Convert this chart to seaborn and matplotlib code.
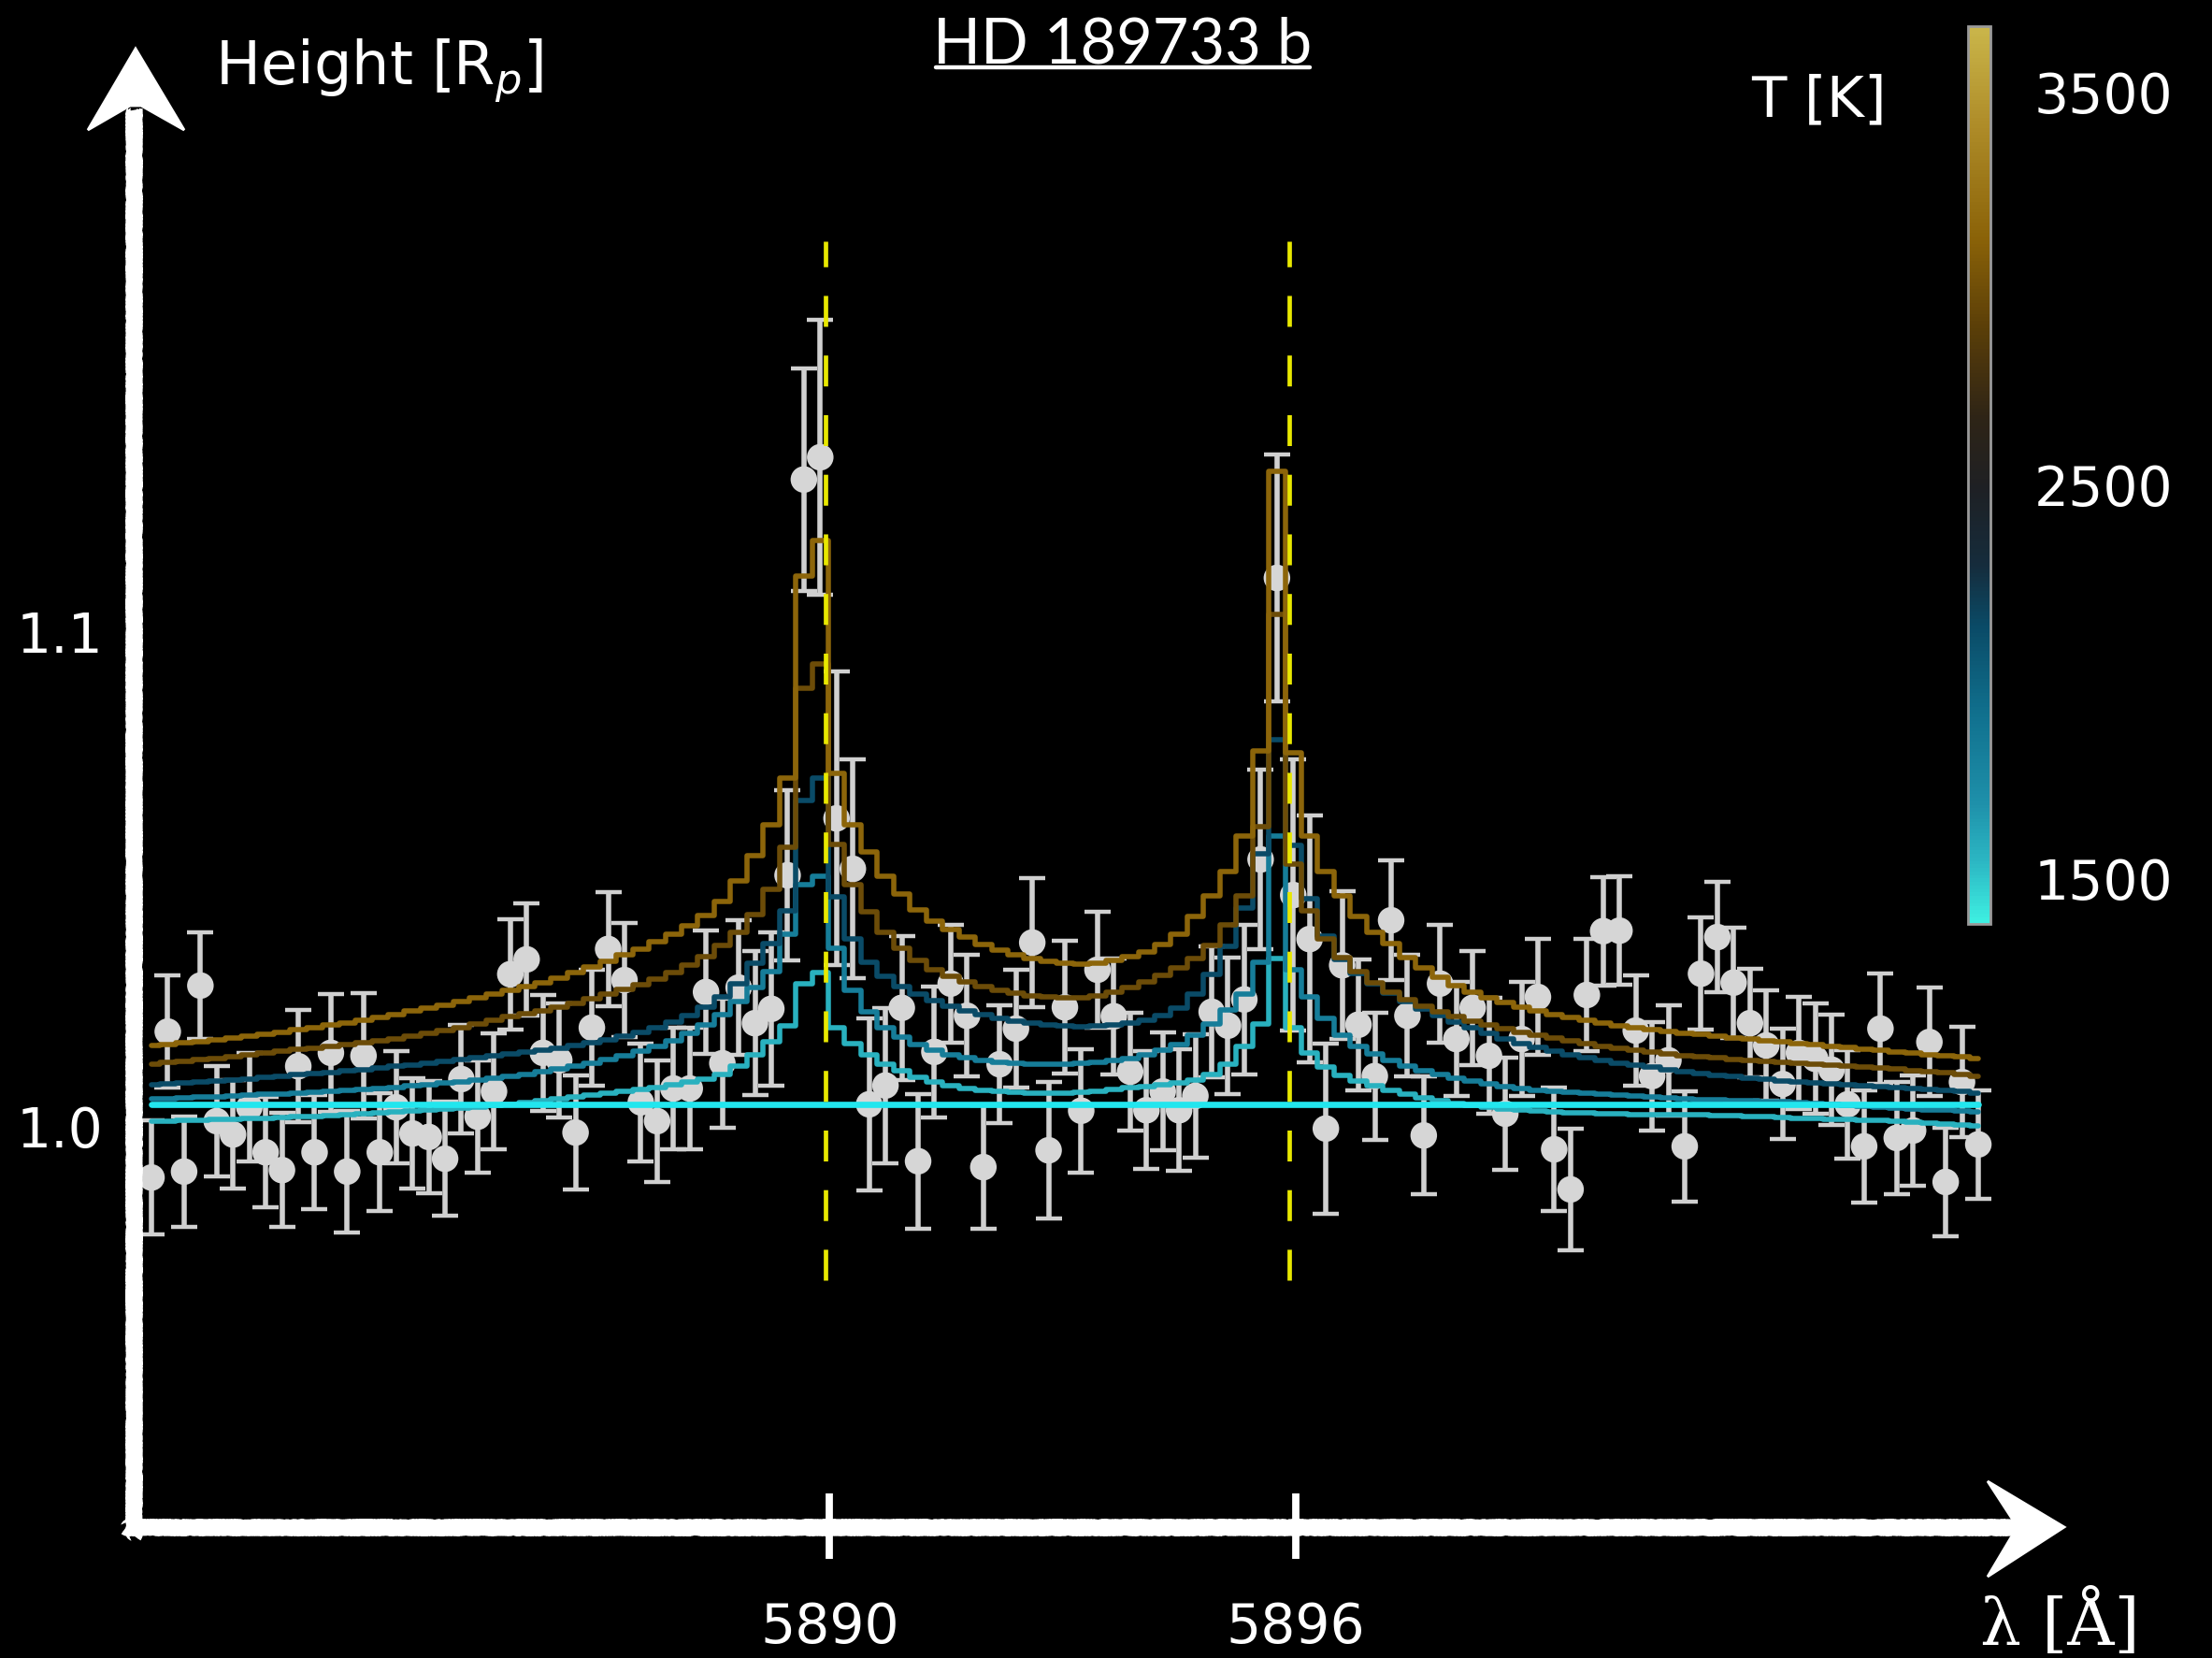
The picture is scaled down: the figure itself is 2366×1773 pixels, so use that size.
import numpy as np
import pandas as pd
import matplotlib
matplotlib.use('Agg')
import matplotlib.pyplot as plt
from matplotlib.colors import LinearSegmentedColormap, Normalize
from matplotlib.patches import Polygon
import seaborn as sns

# wavelength bins [A]
wavelength = [
    5881.27, 5881.48, 5881.69, 5881.90, 5882.11, 5882.32, 5882.53, 5882.74, 5882.95, 5883.16,
    5883.37, 5883.58, 5883.79, 5884.00, 5884.21, 5884.42, 5884.63, 5884.84, 5885.05, 5885.26,
    5885.47, 5885.68, 5885.89, 5886.10, 5886.31, 5886.52, 5886.73, 5886.94, 5887.15, 5887.36,
    5887.57, 5887.78, 5887.99, 5888.20, 5888.41, 5888.62, 5888.83, 5889.04, 5889.25, 5889.46,
    5889.67, 5889.88, 5890.09, 5890.30, 5890.51, 5890.72, 5890.93, 5891.14, 5891.35, 5891.56,
    5891.77, 5891.98, 5892.19, 5892.40, 5892.61, 5892.82, 5893.03, 5893.24, 5893.45, 5893.66,
    5893.87, 5894.08, 5894.29, 5894.50, 5894.71, 5894.92, 5895.13, 5895.34, 5895.55, 5895.76,
    5895.97, 5896.18, 5896.39, 5896.60, 5896.81, 5897.02, 5897.23, 5897.44, 5897.65, 5897.86,
    5898.07, 5898.28, 5898.49, 5898.70, 5898.91, 5899.12, 5899.33, 5899.54, 5899.75, 5899.96,
    5900.17, 5900.38, 5900.59, 5900.80, 5901.01, 5901.22, 5901.43, 5901.64, 5901.85, 5902.06,
    5902.27, 5902.48, 5902.69, 5902.90, 5903.11, 5903.32, 5903.53, 5903.74, 5903.95, 5904.16,
    5904.37, 5904.58, 5904.79]

# measured height [Rp] and 1-sigma errors
height = [
    0.9907, 1.0202, 0.9919, 1.0295, 1.0021, 0.9994, 1.0049, 0.9958, 0.9922, 1.0132,
    0.9958, 1.0159, 0.9919, 1.0153, 0.9958, 1.0049, 0.9996, 0.9989, 0.9945, 1.0106,
    1.0030, 1.0081, 1.0318, 1.0348, 1.0159, 1.0144, 0.9998, 1.0210, 1.0369, 1.0306,
    1.0059, 1.0021, 1.0087, 1.0087, 1.0282, 1.0138, 1.0291, 1.0219, 1.0248, 1.0518,
    1.1318, 1.1363, 1.0633, 1.0531, 1.0055, 1.0093, 1.0250, 0.9940, 1.0161, 1.0299,
    1.0234, 0.9928, 1.0136, 1.0208, 1.0382, 0.9962, 1.0251, 1.0042, 1.0327, 1.0233,
    1.0121, 1.0043, 1.0081, 1.0043, 1.0072, 1.0242, 1.0214, 1.0267, 1.0550, 1.1119,
    1.0478, 1.0389, 1.0006, 1.0336, 1.0216, 1.0112, 1.0427, 1.0234, 0.9992, 1.0299,
    1.0187, 1.0250, 1.0153, 1.0036, 1.0187, 1.0272, 0.9964, 0.9883, 1.0276, 1.0405,
    1.0406, 1.0204, 1.0112, 1.0144, 0.9970, 1.0319, 1.0393, 1.0301, 1.0219, 1.0174,
    1.0096, 1.0159, 1.0147, 1.0125, 1.0055, 0.9970, 1.0208, 0.9987, 1.0002, 1.0181,
    0.9898, 1.0100, 0.9974]

height_err = [
    0.0115, 0.0113, 0.0112, 0.0108, 0.0112, 0.0110, 0.0110, 0.0112, 0.0115, 0.0113,
    0.0115, 0.0119, 0.0123, 0.0127, 0.0119, 0.0113, 0.0112, 0.0113, 0.0115, 0.0110,
    0.0113, 0.0117, 0.0112, 0.0113, 0.0117, 0.0115, 0.0115, 0.0117, 0.0115, 0.0115,
    0.0119, 0.0123, 0.0123, 0.0123, 0.0125, 0.0130, 0.0136, 0.0146, 0.0155, 0.0172,
    0.0225, 0.0278, 0.0297, 0.0221, 0.0174, 0.0157, 0.0146, 0.0136, 0.0132, 0.0119,
    0.0123, 0.0125, 0.0119, 0.0119, 0.0130, 0.0138, 0.0134, 0.0125, 0.0117, 0.0117,
    0.0119, 0.0119, 0.0119, 0.0123, 0.0125, 0.0132, 0.0138, 0.0151, 0.0181, 0.0250,
    0.0274, 0.0250, 0.0172, 0.0149, 0.0132, 0.0129, 0.0121, 0.0123, 0.0119, 0.0119,
    0.0115, 0.0115, 0.0117, 0.0113, 0.0115, 0.0117, 0.0125, 0.0123, 0.0113, 0.0110,
    0.0110, 0.0112, 0.0110, 0.0112, 0.0112, 0.0113, 0.0112, 0.0112, 0.0110, 0.0112,
    0.0112, 0.0113, 0.0112, 0.0112, 0.0110, 0.0113, 0.0112, 0.0113, 0.0112, 0.0110,
    0.0110, 0.0112, 0.0110]

# model spectra, one per temperature [K]
model_temps = [1500, 1750, 2050, 2850, 3000]

model_1500 = [
    1.0021, 1.0021, 1.0023, 1.0023, 1.0025, 1.0025, 1.0026, 1.0026, 1.0028, 1.0030,
    1.0030, 1.0032, 1.0034, 1.0036, 1.0038, 1.0040, 1.0042, 1.0043, 1.0045, 1.0047,
    1.0049, 1.0053, 1.0055, 1.0059, 1.0062, 1.0066, 1.0070, 1.0074, 1.0078, 1.0081,
    1.0085, 1.0089, 1.0095, 1.0100, 1.0106, 1.0115, 1.0132, 1.0155, 1.0181, 1.0214,
    1.0299, 1.0321, 1.0210, 1.0178, 1.0155, 1.0136, 1.0123, 1.0110, 1.0100, 1.0093,
    1.0087, 1.0083, 1.0081, 1.0079, 1.0078, 1.0078, 1.0078, 1.0079, 1.0081, 1.0085,
    1.0089, 1.0091, 1.0095, 1.0098, 1.0104, 1.0115, 1.0136, 1.0172, 1.0217, 1.0350,
    1.0210, 1.0159, 1.0130, 1.0113, 1.0102, 1.0093, 1.0083, 1.0076, 1.0068, 1.0062,
    1.0057, 1.0053, 1.0049, 1.0045, 1.0043, 1.0042, 1.0040, 1.0038, 1.0038, 1.0036,
    1.0036, 1.0034, 1.0034, 1.0034, 1.0034, 1.0034, 1.0032, 1.0032, 1.0030, 1.0030,
    1.0028, 1.0026, 1.0026, 1.0025, 1.0025, 1.0023, 1.0023, 1.0021, 1.0019, 1.0017,
    1.0015, 1.0013, 1.0011]

model_1750 = [
    1.0066, 1.0066, 1.0068, 1.0070, 1.0070, 1.0072, 1.0074, 1.0076, 1.0076, 1.0078,
    1.0079, 1.0081, 1.0083, 1.0085, 1.0087, 1.0089, 1.0093, 1.0095, 1.0098, 1.0100,
    1.0104, 1.0108, 1.0112, 1.0115, 1.0121, 1.0127, 1.0132, 1.0138, 1.0146, 1.0153,
    1.0163, 1.0172, 1.0183, 1.0198, 1.0216, 1.0236, 1.0263, 1.0291, 1.0323, 1.0399,
    1.0499, 1.0516, 1.0371, 1.0285, 1.0242, 1.0210, 1.0191, 1.0176, 1.0164, 1.0155,
    1.0149, 1.0144, 1.0140, 1.0138, 1.0136, 1.0136, 1.0136, 1.0138, 1.0140, 1.0144,
    1.0147, 1.0155, 1.0164, 1.0176, 1.0195, 1.0217, 1.0246, 1.0278, 1.0342, 1.0597,
    1.0327, 1.0272, 1.0229, 1.0195, 1.0172, 1.0157, 1.0144, 1.0132, 1.0123, 1.0115,
    1.0108, 1.0102, 1.0096, 1.0091, 1.0087, 1.0083, 1.0081, 1.0079, 1.0078, 1.0076,
    1.0074, 1.0072, 1.0070, 1.0068, 1.0066, 1.0064, 1.0064, 1.0062, 1.0062, 1.0060,
    1.0060, 1.0059, 1.0057, 1.0055, 1.0053, 1.0051, 1.0049, 1.0047, 1.0045, 1.0043,
    1.0043, 1.0042, 1.0040]

model_2050 = [
    1.0095, 1.0096, 1.0098, 1.0100, 1.0102, 1.0104, 1.0106, 1.0110, 1.0112, 1.0115,
    1.0117, 1.0119, 1.0123, 1.0125, 1.0129, 1.0132, 1.0134, 1.0138, 1.0142, 1.0146,
    1.0149, 1.0153, 1.0157, 1.0161, 1.0164, 1.0168, 1.0174, 1.0180, 1.0185, 1.0193,
    1.0200, 1.0210, 1.0221, 1.0234, 1.0251, 1.0272, 1.0299, 1.0340, 1.0380, 1.0446,
    1.0669, 1.0715, 1.0474, 1.0389, 1.0342, 1.0314, 1.0293, 1.0278, 1.0265, 1.0253,
    1.0244, 1.0236, 1.0229, 1.0223, 1.0219, 1.0216, 1.0214, 1.0212, 1.0214, 1.0216,
    1.0219, 1.0225, 1.0234, 1.0250, 1.0278, 1.0318, 1.0374, 1.0452, 1.0561, 1.0792,
    1.0578, 1.0471, 1.0395, 1.0348, 1.0319, 1.0299, 1.0280, 1.0263, 1.0248, 1.0234,
    1.0221, 1.0210, 1.0198, 1.0187, 1.0178, 1.0170, 1.0163, 1.0155, 1.0149, 1.0144,
    1.0138, 1.0134, 1.0130, 1.0125, 1.0121, 1.0117, 1.0113, 1.0112, 1.0108, 1.0106,
    1.0102, 1.0100, 1.0098, 1.0096, 1.0095, 1.0093, 1.0091, 1.0089, 1.0087, 1.0085,
    1.0083, 1.0081, 1.0078]

model_2850 = [
    1.0136, 1.0140, 1.0142, 1.0146, 1.0147, 1.0151, 1.0155, 1.0159, 1.0163, 1.0166,
    1.0168, 1.0172, 1.0176, 1.0180, 1.0183, 1.0187, 1.0193, 1.0198, 1.0204, 1.0210,
    1.0217, 1.0225, 1.0233, 1.0238, 1.0244, 1.0251, 1.0259, 1.0268, 1.0278, 1.0287,
    1.0297, 1.0308, 1.0321, 1.0336, 1.0354, 1.0376, 1.0403, 1.0439, 1.0490, 1.0575,
    1.0896, 1.0945, 1.0580, 1.0499, 1.0444, 1.0403, 1.0371, 1.0346, 1.0327, 1.0314,
    1.0302, 1.0293, 1.0285, 1.0280, 1.0274, 1.0272, 1.0270, 1.0270, 1.0274, 1.0282,
    1.0291, 1.0302, 1.0316, 1.0331, 1.0350, 1.0376, 1.0418, 1.0476, 1.0616, 1.1045,
    1.0541, 1.0446, 1.0389, 1.0352, 1.0323, 1.0301, 1.0282, 1.0267, 1.0253, 1.0242,
    1.0233, 1.0223, 1.0216, 1.0208, 1.0200, 1.0195, 1.0189, 1.0183, 1.0178, 1.0172,
    1.0168, 1.0164, 1.0161, 1.0157, 1.0153, 1.0151, 1.0149, 1.0146, 1.0144, 1.0142,
    1.0140, 1.0138, 1.0136, 1.0134, 1.0132, 1.0130, 1.0129, 1.0127, 1.0123, 1.0121,
    1.0119, 1.0115, 1.0112]

model_3000 = [
    1.0174, 1.0176, 1.0180, 1.0181, 1.0185, 1.0189, 1.0193, 1.0197, 1.0200, 1.0206,
    1.0210, 1.0216, 1.0219, 1.0225, 1.0231, 1.0236, 1.0244, 1.0250, 1.0255, 1.0263,
    1.0270, 1.0278, 1.0285, 1.0293, 1.0301, 1.0310, 1.0321, 1.0333, 1.0344, 1.0357,
    1.0369, 1.0384, 1.0399, 1.0416, 1.0437, 1.0465, 1.0507, 1.0558, 1.0620, 1.0715,
    1.1123, 1.1195, 1.0724, 1.0620, 1.0565, 1.0516, 1.0480, 1.0448, 1.0425, 1.0408,
    1.0393, 1.0378, 1.0367, 1.0357, 1.0350, 1.0344, 1.0340, 1.0338, 1.0340, 1.0346,
    1.0354, 1.0363, 1.0378, 1.0399, 1.0435, 1.0476, 1.0526, 1.0597, 1.0769, 1.1335,
    1.0766, 1.0597, 1.0526, 1.0476, 1.0435, 1.0403, 1.0380, 1.0352, 1.0331, 1.0312,
    1.0295, 1.0282, 1.0270, 1.0261, 1.0251, 1.0244, 1.0236, 1.0231, 1.0225, 1.0219,
    1.0214, 1.0210, 1.0206, 1.0202, 1.0198, 1.0197, 1.0193, 1.0189, 1.0187, 1.0183,
    1.0181, 1.0178, 1.0176, 1.0172, 1.0170, 1.0166, 1.0164, 1.0161, 1.0159, 1.0155,
    1.0153, 1.0151, 1.0147]

# flat (no sodium) reference level
flat_height = 1.0055

na_lines = [5889.95, 5895.92]
na_span = (0.97, 1.18)
x_ticks = [5890, 5896]
y_ticks = [1.0, 1.1]
t_range = (1330, 3500)
cbar_ticks = [1500, 1750, 2000, 2250, 2500, 2750, 3000, 3250]
cbar_labels = ['3500', '2500', '1500']

# ---- style ----
sns.set_theme(style='dark', rc={'figure.facecolor': 'black', 'axes.facecolor': 'black',
                                'savefig.facecolor': 'black', 'text.color': 'white'})
plt.rcParams['font.family'] = ['DejaVu Sans']

chalk_cmap = LinearSegmentedColormap.from_list('chalk', [
    (0.000, '#3ef0e2'), (0.066, '#2cb8c4'), (0.133, '#1e90aa'), (0.233, '#10708e'),
    (0.332, '#0a4a66'), (0.399, '#152c3c'), (0.485, '#1e2024'), (0.565, '#2e2416'),
    (0.664, '#5a3e08'), (0.764, '#8a6208'), (0.897, '#b08e2a'), (1.000, '#cab64a')])
norm = Normalize(*t_range)

W, H, DPI = 2366, 1774, 200
fig = plt.figure(figsize=(W / DPI, H / DPI), dpi=DPI, facecolor='black')

# main data axes fills the whole canvas; limits chosen to line up with the chalk axes
ax = fig.add_axes([0, 0, 1, 1])
ax.set_facecolor('black')

ax.errorbar(wavelength, height, yerr=height_err, fmt='none', ecolor='#d0d0d0',
            elinewidth=2.0, capsize=5, capthick=1.6, zorder=2)
sns.scatterplot(x=wavelength, y=height, s=105, color='#d6d6d6', edgecolor='none',
                zorder=3, ax=ax)

models = pd.DataFrame({
    'wavelength': wavelength * len(model_temps),
    'height': model_1500 + model_1750 + model_2050 + model_2850 + model_3000,
    'T': np.repeat(model_temps, len(wavelength)),
})
sns.lineplot(data=models, x='wavelength', y='height', hue='T', palette=chalk_cmap,
             hue_norm=norm, estimator=None, drawstyle='steps-mid', lw=2.0,
             legend=False, zorder=4, ax=ax)
sns.lineplot(x=wavelength, y=[flat_height] * len(wavelength), color='#22e6ee', lw=2.4,
             zorder=4, ax=ax)

ax.vlines(na_lines, *na_span, colors='#e8e800', linestyles=(0, (7, 6.5)), lw=1.7, zorder=5)

# chalk tick marks / labels tied to data positions
xtr = ax.get_xaxis_transform()
ytr = ax.get_yaxis_transform()
ax.vlines(x_ticks, 0.060, 0.099, transform=xtr, colors='white', lw=2.8, zorder=6)
for t in x_ticks:
    ax.text(t, 0.019, str(t), transform=xtr, ha='center', va='center',
            color='white', fontsize=21)
for v in y_ticks:
    ax.text(0.027, v, f'{v:.1f}', transform=ytr, ha='center', va='center',
            color='white', fontsize=21)

ax.set_xlim(5879.32, 5879.32 + W / 83.08)
ax.set_ylim(1 - (H - 1211) / 5290, 1 + 1211 / 5290)
ax.axis('off')

# chalk axes overlay in pixel units
ov = fig.add_axes([0, 0, 1, 1])
ov.set_xlim(0, W)
ov.set_ylim(H, 0)
ov.axis('off')
for xs, ys in [([143, 143], [1643, 118]), ([134, 2168], [1634, 1634])]:
    ln, = ov.plot(xs, ys, color='white', lw=6.0, solid_capstyle='butt')
    ln.set_sketch_params(scale=1.0, length=4, randomness=2)
ov.add_patch(Polygon([(145, 53), (197, 140), (151, 114), (139, 114), (94, 140)],
                     closed=True, color='white'))
ov.add_patch(Polygon([(2208, 1634), (2126, 1585), (2154, 1628), (2154, 1640), (2126, 1687)],
                     closed=True, color='white'))
ov.plot([1001, 1401], [73, 73], color='white', lw=1.6)

fig.text(1201 / W, 1 - 67 / H, 'HD 189733 b', ha='center', va='baseline',
         fontsize=24, family=['Lato', 'DejaVu Sans'], color='white')
fig.text(230 / W, 1 - 90 / H, 'Height [R$_p$]', ha='left', va='baseline',
         fontsize=23, color='white')
fig.text(1945 / W, 1 - 124 / H, 'T [K]', ha='center', va='baseline',
         fontsize=22, color='white')
for lab, yy in zip(cbar_labels, [104, 525, 946]):
    fig.text(2250 / W, 1 - yy / H, lab, ha='center', va='center', fontsize=21, color='white')
fig.text(2203 / W, 1 - 1737 / H, 'λ [Å]', ha='center', va='center', fontsize=25,
         family=['DejaVu Serif'], color='white')

# temperature colorbar
cax = fig.add_axes([2105 / W, 1 - 989 / H, 24 / W, 960 / H])
sm = plt.cm.ScalarMappable(norm=norm, cmap=chalk_cmap)
cb = fig.colorbar(sm, cax=cax)
cb.set_ticks(cbar_ticks)
cb.ax.tick_params(direction='in', length=4, width=0.8, colors='#dddddd',
                  labelright=False, right=True)
cb.outline.set_edgecolor('#9a9a9a')
cb.outline.set_linewidth(1.0)

fig.savefig('out.png', dpi=DPI, facecolor='black')
